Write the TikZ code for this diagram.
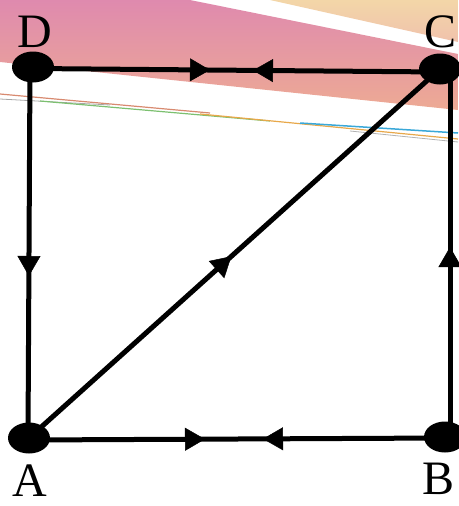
\documentclass[tikz,border=0pt]{standalone}
\usepackage{fontspec}
\setmainfont{Liberation Serif}
\usetikzlibrary{shapes.geometric,arrows.meta,decorations.markings}
\definecolor{pinkA}{HTML}{DF8AAE}
\definecolor{pinkB}{HTML}{EDAA94}
\definecolor{peachA}{HTML}{F3D6A8}
\definecolor{peachB}{HTML}{F0C2AC}
\tikzset{ptip/.tip={Triangle[length=20pt,width=23pt,line width=0.5pt]}}
\begin{document}
\begin{tikzpicture}[x=1pt,y=-1pt,
  dot/.style={ellipse, fill=black, inner sep=0pt, minimum width=42pt, minimum height=31pt},
  lbl/.style={font=\fontsize{48}{48}\selectfont, anchor=base, inner sep=0pt},
  edgeline/.style={line width=5pt}]
\useasboundingbox (0,0) rectangle (458,506);
% background scan artefacts
\shade[top color=pinkA, bottom color=pinkB] (0,0) -- (190,0) -- (458,54) -- (458,110) -- (0,62) -- cycle;
\shade[top color=peachA, bottom color=peachB] (270,0) -- (458,0) -- (458,42) -- cycle;
\draw[line width=1.2pt, color={rgb,255:red,216;green,138;blue,112}] (0,94) -- (210,113);
\draw[line width=0.8pt, color=black!35] (0,99) -- (110,105);
\draw[line width=1.2pt, color={rgb,255:red,124;green,192;blue,112}] (40,101) -- (270,121);
\draw[line width=1.2pt, color={rgb,255:red,232;green,168;blue,74}] (200,114) -- (458,139);
\draw[line width=1.5pt, color={rgb,255:red,58;green,168;blue,216}] (300,123) -- (458,133);
\draw[line width=0.8pt, color=black!30] (350,131) -- (458,142);
% vertices
\node[dot] (D) at (33,67) {};
\node[dot] (C) at (440,69) {};
\node[dot] (A) at (29,438) {};
\node[dot] (B) at (445,437) {};
% labels
\node[lbl] (lD) at (35,47) {D};
\node[lbl] (lC) at (441,47) {C};
\node[lbl] (lA) at (30,496) {A};
\node[lbl] (lB) at (439,494) {B};
% edges
\draw[edgeline, postaction={decorate}, decoration={markings,
   mark=at position 177pt with {\arrow{ptip}},
   mark=at position 220pt with {\arrowreversed{ptip}}}]
   ([yshift=-1.5pt]D.center) -- ([yshift=-3pt]C.center);
\draw[edgeline, postaction={decorate}, decoration={markings,
   mark=at position 176pt with {\arrow{ptip}},
   mark=at position 234pt with {\arrowreversed{ptip}}}]
   ([yshift=-2pt]A.center) -- ([yshift=-1pt]B.center);
\draw[edgeline, postaction={decorate}, decoration={markings,
   mark=at position 209pt with {\arrow{ptip}}}]
   ([xshift=-3pt]D.center) -- ([xshift=-1pt]A.center);
\draw[edgeline, postaction={decorate}, decoration={markings,
   mark=at position 190pt with {\arrow{ptip}}}]
   ([xshift=5pt]B.center) -- ([xshift=10pt]C.center);
\draw[edgeline, postaction={decorate}, decoration={markings,
   mark=at position 272pt with {\arrow{ptip}}}]
   (A.center) -- (C.center);
\end{tikzpicture}
\end{document}
